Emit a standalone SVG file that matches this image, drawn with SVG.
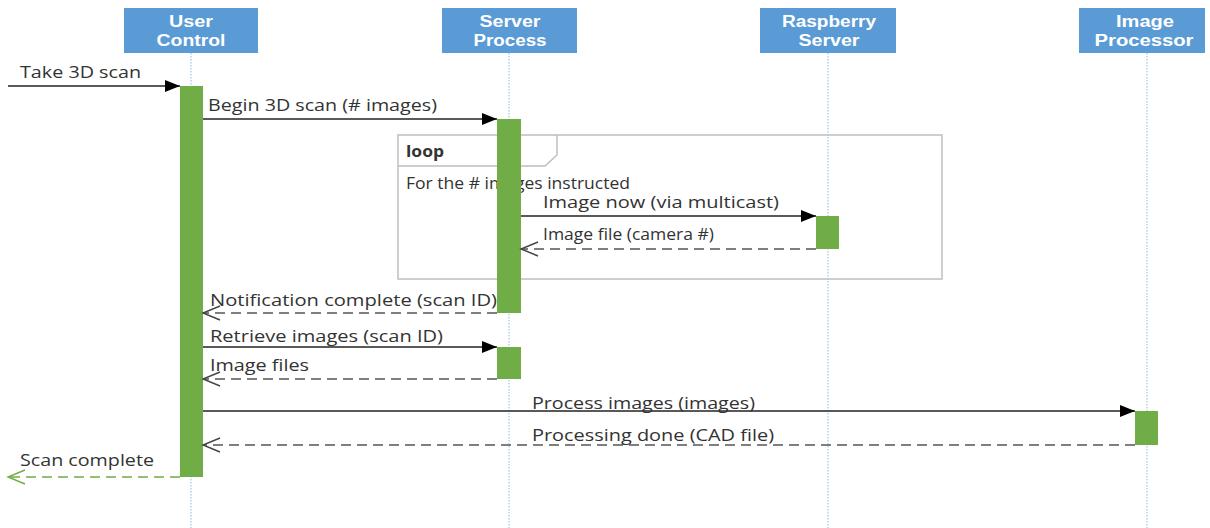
<svg xmlns="http://www.w3.org/2000/svg" width="1210" height="528" viewBox="0 0 1210 528">
  <defs>
    <marker id="solid" markerWidth="16" markerHeight="12" refX="15" refY="6" orient="auto" markerUnits="userSpaceOnUse">
      <path d="M0,0 L15,6 L0,12 Z" fill="#000"/>
    </marker>
    <marker id="open" markerWidth="20" markerHeight="16" refX="18" refY="8" orient="auto" markerUnits="userSpaceOnUse">
      <path d="M1,1 L18,8 L1,15" fill="none" stroke="#444" stroke-width="1.4"/>
    </marker>
    <marker id="openGreen" markerWidth="20" markerHeight="16" refX="18" refY="8" orient="auto" markerUnits="userSpaceOnUse">
      <path d="M1,1 L18,8 L1,15" fill="none" stroke="#70ad47" stroke-width="1.4"/>
    </marker>
  </defs>
  <style>
    .head { fill: #5b9bd5; }
    .headText { fill: #fff; font-family: "Liberation Sans", Arial, sans-serif; font-weight: bold; font-size: 16px; text-anchor: middle; }
    .life { stroke: #9dc3e6; stroke-width: 1.2; stroke-dasharray: 1.5 1.5; fill: none; }
    .bar { fill: #70ad47; }
    .lbl { fill: #333; font-family: "Open Sans", "Liberation Sans", sans-serif; font-size: 16px; }
    .call { stroke: #222; stroke-width: 1.4; fill: none; marker-end: url(#solid); }
    .ret { stroke: #555; stroke-width: 1.4; fill: none; stroke-dasharray: 10 6; marker-end: url(#open); }
    .retGreen { stroke: #70ad47; stroke-width: 1.4; fill: none; stroke-dasharray: 10 6; marker-end: url(#openGreen); }
    .frame { fill: none; stroke: #bfbfbf; stroke-width: 1.5; }
  </style>
  <rect width="1210" height="528" fill="#fff"/>

  <!-- lifelines -->
  <g id="lifelines">
    <line class="life" x1="191" y1="53" x2="191" y2="528"/>
    <line class="life" x1="509" y1="53" x2="509" y2="528"/>
    <line class="life" x1="828" y1="53" x2="828" y2="528"/>
    <line class="life" x1="1147" y1="53" x2="1147" y2="528"/>
  </g>

  <!-- loop combined fragment -->
  <g id="loop">
    <rect class="frame" x="398" y="135" width="544" height="144"/>
    <path class="frame" d="M398,166 L545,166 L557,155 L557,135"/>
    <text class="lbl" x="406" y="157" font-weight="bold" font-size="14" textLength="38" lengthAdjust="spacingAndGlyphs">loop</text>
    <text class="lbl" x="406" y="189" font-size="14" textLength="224" lengthAdjust="spacingAndGlyphs">For the # images instructed</text>
  </g>

  <g id="user-control">
    <rect class="head" x="124" y="8" width="134" height="45"/>
    <text class="headText" x="191" y="26.5" textLength="44" lengthAdjust="spacingAndGlyphs">User</text>
    <text class="headText" x="191" y="46" textLength="69" lengthAdjust="spacingAndGlyphs">Control</text>
    <rect class="bar" x="180" y="86" width="23" height="391"/>
  </g>

  <g id="server-process">
    <rect class="head" x="442" y="8" width="135" height="45"/>
    <text class="headText" x="510" y="26.5" textLength="61" lengthAdjust="spacingAndGlyphs">Server</text>
    <text class="headText" x="510" y="46" textLength="73" lengthAdjust="spacingAndGlyphs">Process</text>
    <rect class="bar" x="497" y="119" width="24" height="194"/>
    <rect class="bar" x="497" y="347" width="24" height="32"/>
  </g>

  <g id="raspberry-server">
    <rect class="head" x="760" y="8" width="136" height="45"/>
    <text class="headText" x="829" y="26.5" textLength="94" lengthAdjust="spacingAndGlyphs">Raspberry</text>
    <text class="headText" x="829" y="46" textLength="61" lengthAdjust="spacingAndGlyphs">Server</text>
    <rect class="bar" x="816" y="216" width="23" height="33"/>
  </g>

  <g id="image-processor">
    <rect class="head" x="1079" y="8" width="126" height="45"/>
    <text class="headText" x="1145" y="26.5" textLength="58" lengthAdjust="spacingAndGlyphs">Image</text>
    <text class="headText" x="1144" y="46" textLength="99" lengthAdjust="spacingAndGlyphs">Processor</text>
    <rect class="bar" x="1135" y="411" width="23" height="34"/>
  </g>

  <!-- messages -->
  <g id="connectors">
    <line class="call" x1="8" y1="86" x2="180" y2="86"/>
    <line class="call" x1="203" y1="119" x2="497" y2="119"/>
    <line class="call" x1="521" y1="216" x2="816" y2="216"/>
    <line class="ret" x1="816" y1="249" x2="521" y2="249"/>
    <line class="ret" x1="497" y1="313" x2="203" y2="313"/>
    <line class="call" x1="203" y1="347" x2="497" y2="347"/>
    <line class="ret" x1="497" y1="379" x2="203" y2="379"/>
    <line class="call" x1="203" y1="411" x2="1135" y2="411"/>
    <line class="ret" x1="1135" y1="445" x2="203" y2="445"/>
    <line class="retGreen" x1="180" y1="477" x2="8" y2="477"/>
  </g>

  <g id="labels">
    <text class="lbl" x="20" y="78" textLength="121" lengthAdjust="spacingAndGlyphs">Take 3D scan</text>
    <text class="lbl" x="208" y="111" textLength="229" lengthAdjust="spacingAndGlyphs">Begin 3D scan (# images)</text>
    <text class="lbl" x="543" y="208" textLength="236" lengthAdjust="spacingAndGlyphs">Image now (via multicast)</text>
    <text class="lbl" x="543" y="240" textLength="171" lengthAdjust="spacingAndGlyphs">Image file (camera #)</text>
    <text class="lbl" x="210" y="306" textLength="287" lengthAdjust="spacingAndGlyphs">Notification complete (scan ID)</text>
    <text class="lbl" x="210" y="342" textLength="233" lengthAdjust="spacingAndGlyphs">Retrieve images (scan ID)</text>
    <text class="lbl" x="210" y="371" textLength="99" lengthAdjust="spacingAndGlyphs">Image files</text>
    <text class="lbl" x="532" y="409" textLength="223" lengthAdjust="spacingAndGlyphs">Process images (images)</text>
    <text class="lbl" x="532" y="441" textLength="242" lengthAdjust="spacingAndGlyphs">Processing done (CAD file)</text>
    <text class="lbl" x="20" y="466" textLength="134" lengthAdjust="spacingAndGlyphs">Scan complete</text>
  </g>
</svg>
